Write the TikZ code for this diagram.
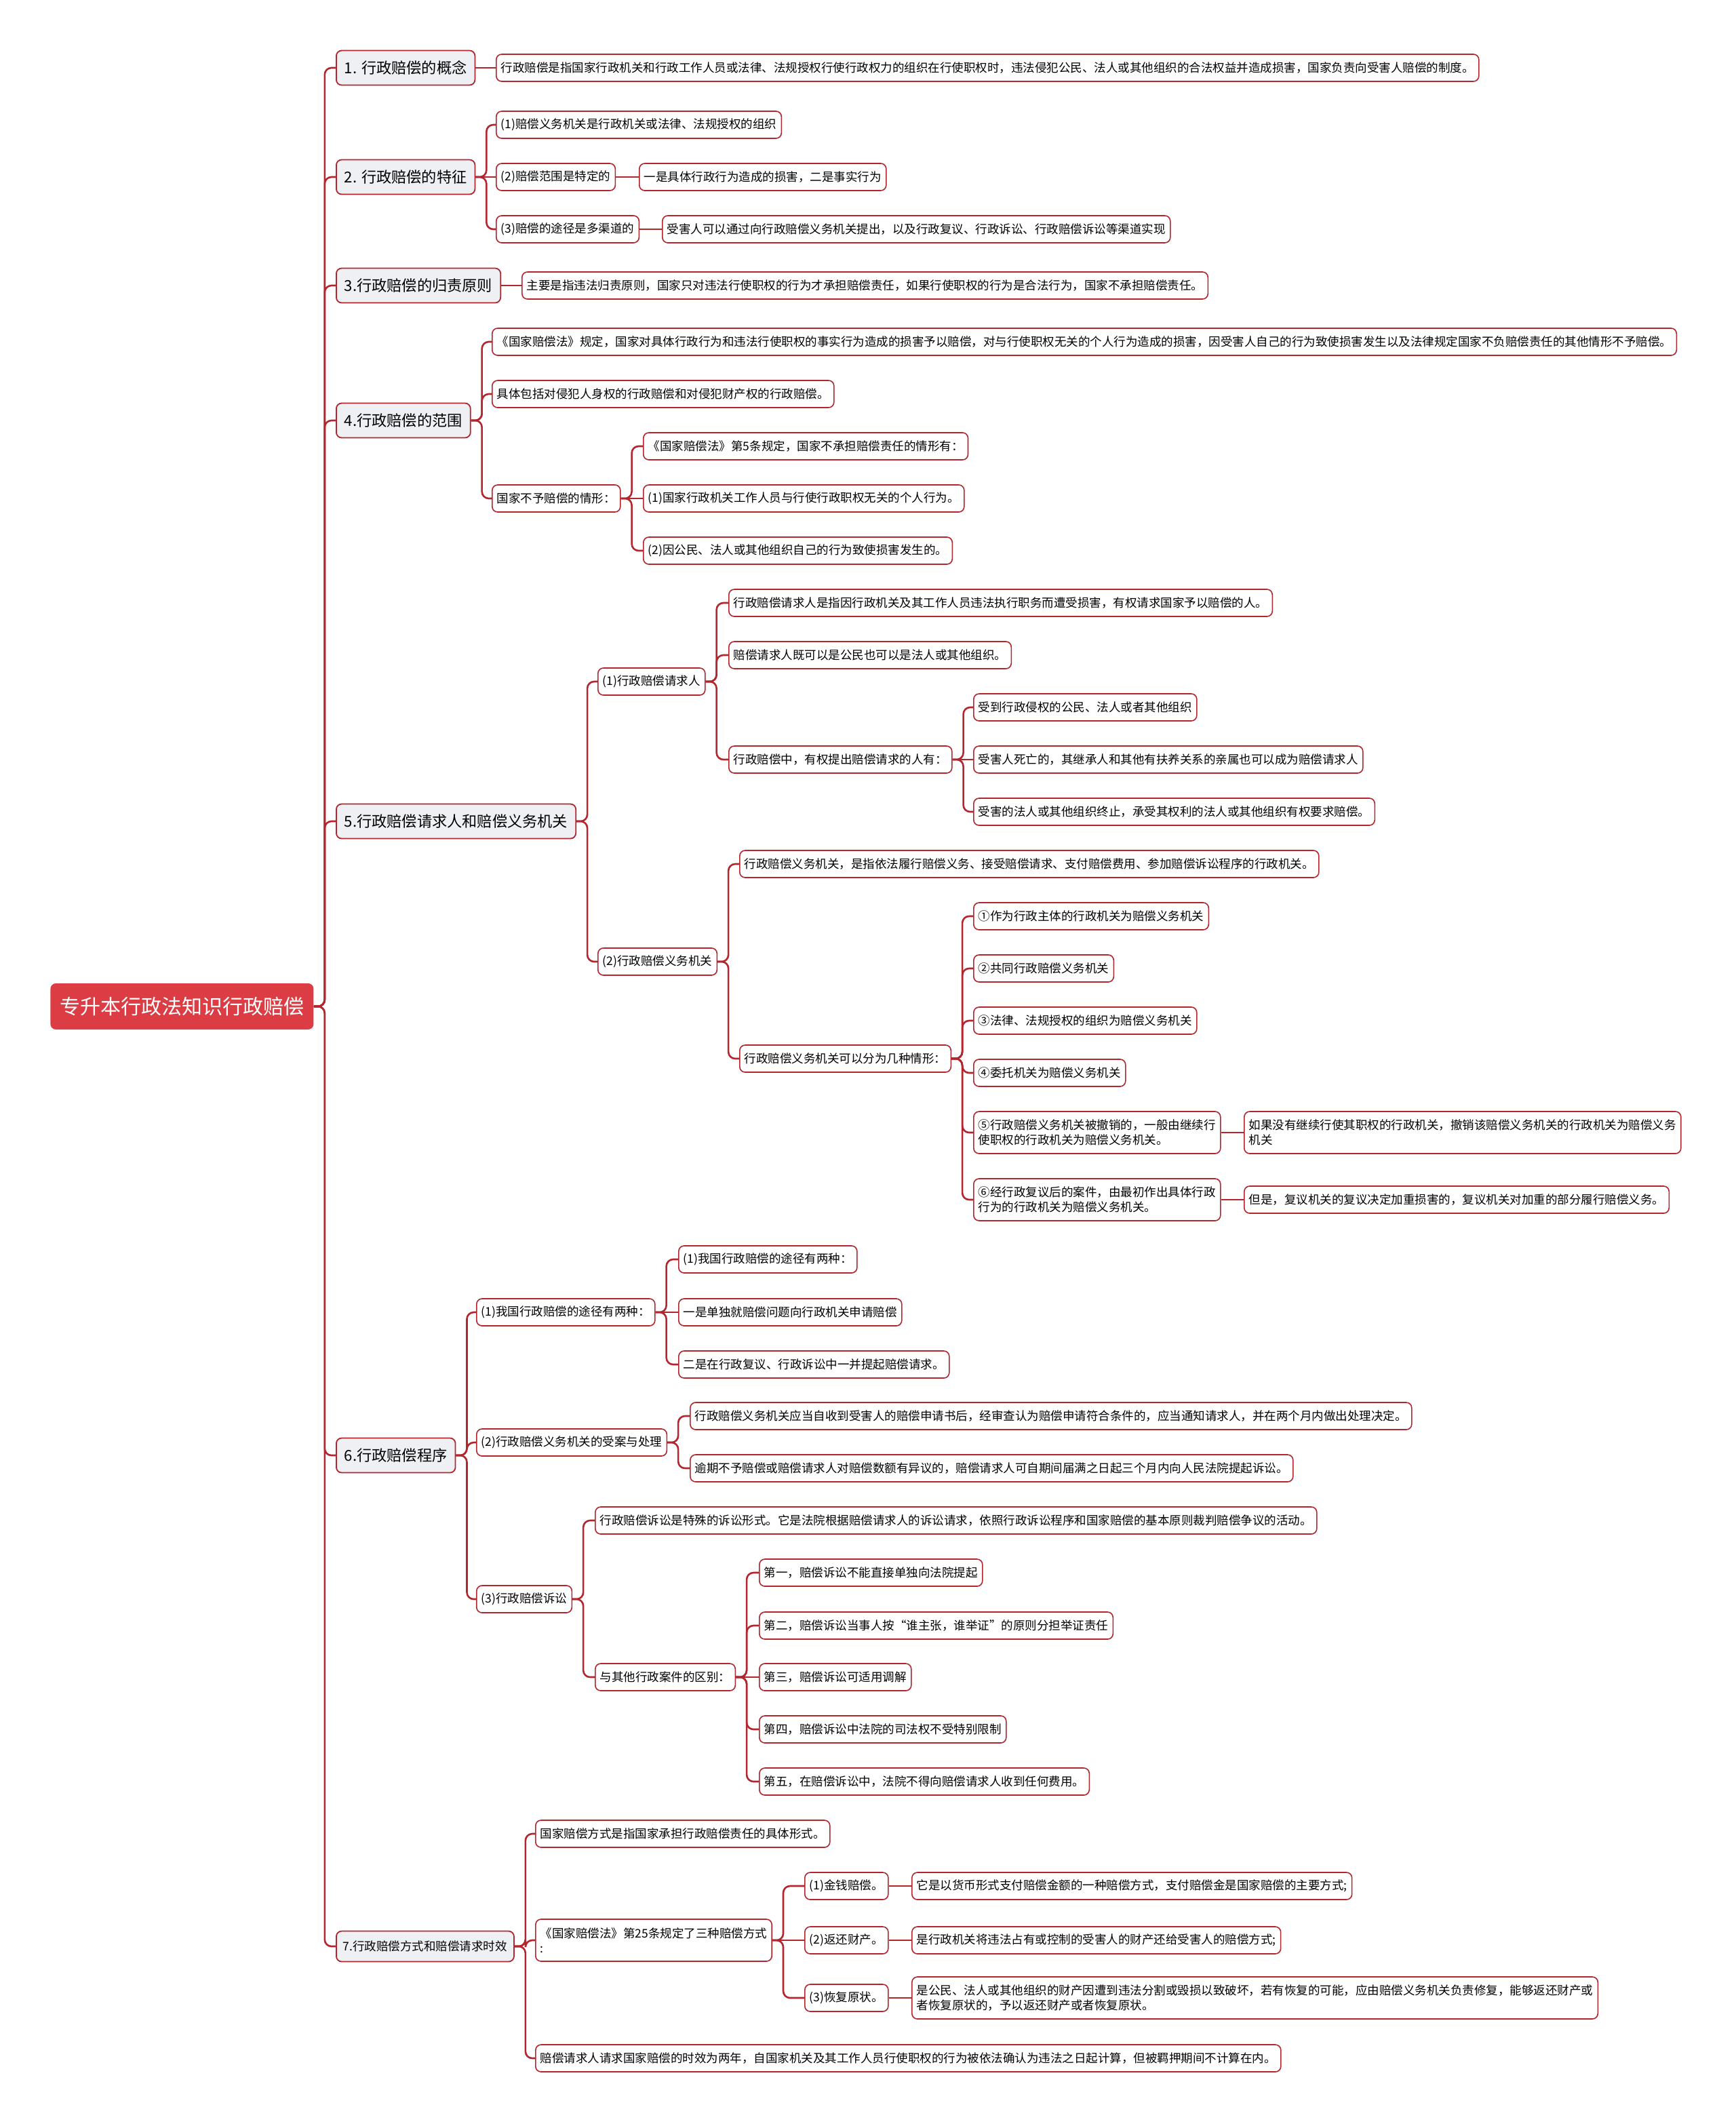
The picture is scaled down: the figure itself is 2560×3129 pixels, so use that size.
\documentclass[tikz,border=0pt]{standalone}
\usepackage{fontspec}
\setmainfont{Noto Sans CJK SC}
\definecolor{rootred}{HTML}{DC3D45}
\definecolor{linkred}{HTML}{B3262E}
\definecolor{topicgray}{HTML}{EEF0F4}
\newcommand{\twig}[2]{\draw[link] (#2.west) -| ([xshift=8pt]#1.east) [sharp corners] -- (#1.east);}
\newcommand{\stem}[2]{\draw[link] (#1.east) -- (#2.west);}

\begin{document}
\begin{tikzpicture}[x=0.5pt,y=-0.5pt,
    link/.style={draw=linkred,line width=1.3pt,rounded corners=5pt},
    root/.style={fill=rootred,text=white,rounded corners=4pt,anchor=west,font=\fontsize{15}{18}\selectfont,minimum height=34pt,inner xsep=7pt},
    topic/.style={draw=linkred,fill=topicgray,line width=0.9pt,rounded corners=4pt,anchor=west,font=\fontsize{11.1}{14}\selectfont,minimum height=25.5pt,inner xsep=6pt},
    leaf/.style={draw=linkred,fill=white,line width=0.8pt,rounded corners=4pt,anchor=west,align=left,font=\fontsize{8.75}{11}\selectfont,minimum height=20pt,inner xsep=3.5pt},
    tall/.style={minimum height=31pt}]
    \useasboundingbox (0,0) rectangle (2560,3129);
    \node[root] (root) at (74,1484) {专升本行政法知识行政赔偿}; %root
    % 1
    \node[topic] (s1) at (495,100) {1. 行政赔偿的概念};
    \node[leaf] (s1a) at (731,100) {行政赔偿是指国家行政机关和行政工作人员或法律、法规授权行使行政权力的组织在行使职权时，违法侵犯公民、法人或其他组织的合法权益并造成损害，国家负责向受害人赔偿的制度。};
    % 2
    \node[topic] (s2) at (495,261) {2. 行政赔偿的特征};
    \node[leaf] (s2a) at (731,184) {(1)赔偿义务机关是行政机关或法律、法规授权的组织};
    \node[leaf] (s2b) at (731,261) {(2)赔偿范围是特定的};
    \node[leaf] (s2bx) at (942,261) {一是具体行政行为造成的损害，二是事实行为};
    \node[leaf] (s2c) at (731,338) {(3)赔偿的途径是多渠道的};
    \node[leaf] (s2cx) at (976,338) {受害人可以通过向行政赔偿义务机关提出，以及行政复议、行政诉讼、行政赔偿诉讼等渠道实现};
    % 3
    \node[topic] (s3) at (495,421) {3.行政赔偿的归责原则};
    \node[leaf] (s3a) at (769,421) {主要是指违法归责原则，国家只对违法行使职权的行为才承担赔偿责任，如果行使职权的行为是合法行为，国家不承担赔偿责任。};
    % 4
    \node[topic] (s4) at (495,620) {4.行政赔偿的范围};
    \node[leaf] (s4a) at (725,504) {《国家赔偿法》规定，国家对具体行政行为和违法行使职权的事实行为造成的损害予以赔偿，对与行使职权无关的个人行为造成的损害，因受害人自己的行为致使损害发生以及法律规定国家不负赔偿责任的其他情形不予赔偿。};
    \node[leaf] (s4b) at (725,581) {具体包括对侵犯人身权的行政赔偿和对侵犯财产权的行政赔偿。};
    \node[leaf] (s4c) at (725,735) {国家不予赔偿的情形：};
    \node[leaf] (s4c1) at (948,658) {《国家赔偿法》第5条规定，国家不承担赔偿责任的情形有：};
    \node[leaf] (s4c2) at (948,735) {(1)国家行政机关工作人员与行使行政职权无关的个人行为。};
    \node[leaf] (s4c3) at (948,812) {(2)因公民、法人或其他组织自己的行为致使损害发生的。};
    % 5
    \node[topic] (s5) at (495,1211) {5.行政赔偿请求人和赔偿义务机关};
    \node[leaf] (s5a) at (881,1005) {(1)行政赔偿请求人};
    \node[leaf] (s5a1) at (1074,889) {行政赔偿请求人是指因行政机关及其工作人员违法执行职务而遭受损害，有权请求国家予以赔偿的人。};
    \node[leaf] (s5a2) at (1074,966) {赔偿请求人既可以是公民也可以是法人或其他组织。};
    \node[leaf] (s5a3) at (1074,1120) {行政赔偿中，有权提出赔偿请求的人有：};
    \node[leaf] (s5a3a) at (1435,1043) {受到行政侵权的公民、法人或者其他组织};
    \node[leaf] (s5a3b) at (1435,1120) {受害人死亡的，其继承人和其他有扶养关系的亲属也可以成为赔偿请求人};
    \node[leaf] (s5a3c) at (1435,1197) {受害的法人或其他组织终止，承受其权利的法人或其他组织有权要求赔偿。};
    \node[leaf] (s5b) at (881,1418) {(2)行政赔偿义务机关};
    \node[leaf] (s5b1) at (1090,1274) {行政赔偿义务机关，是指依法履行赔偿义务、接受赔偿请求、支付赔偿费用、参加赔偿诉讼程序的行政机关。};
    \node[leaf] (s5b2) at (1090,1561) {行政赔偿义务机关可以分为几种情形：};
    \node[leaf] (s5b2a) at (1435,1351) {①作为行政主体的行政机关为赔偿义务机关};
    \node[leaf] (s5b2b) at (1435,1428) {②共同行政赔偿义务机关};
    \node[leaf] (s5b2c) at (1435,1505) {③法律、法规授权的组织为赔偿义务机关};
    \node[leaf] (s5b2d) at (1435,1582) {④委托机关为赔偿义务机关};
    \node[leaf,tall] (s5b2e) at (1435,1670) {⑤行政赔偿义务机关被撤销的，一般由继续行\\使职权的行政机关为赔偿义务机关。};
    \node[leaf,tall] (s5b2ex) at (1834,1670) {如果没有继续行使其职权的行政机关，撤销该赔偿义务机关的行政机关为赔偿义务\\机关};
    \node[leaf,tall] (s5b2f) at (1435,1769) {⑥经行政复议后的案件，由最初作出具体行政\\行为的行政机关为赔偿义务机关。};
    \node[leaf] (s5b2fx) at (1834,1769) {但是，复议机关的复议决定加重损害的，复议机关对加重的部分履行赔偿义务。};
    % 6
    \node[topic] (s6) at (495,2146) {6.行政赔偿程序};
    \node[leaf] (s6a) at (702,1935) {(1)我国行政赔偿的途径有两种：};
    \node[leaf] (s6a1) at (1000,1857) {(1)我国行政赔偿的途径有两种：};
    \node[leaf] (s6a2) at (1000,1935) {一是单独就赔偿问题向行政机关申请赔偿};
    \node[leaf] (s6a3) at (1000,2012) {二是在行政复议、行政诉讼中一并提起赔偿请求。};
    \node[leaf] (s6b) at (702,2127) {(2)行政赔偿义务机关的受案与处理};
    \node[leaf] (s6b1) at (1017,2088) {行政赔偿义务机关应当自收到受害人的赔偿申请书后，经审查认为赔偿申请符合条件的，应当通知请求人，并在两个月内做出处理决定。};
    \node[leaf] (s6b2) at (1017,2165) {逾期不予赔偿或赔偿请求人对赔偿数额有异议的，赔偿请求人可自期间届满之日起三个月内向人民法院提起诉讼。};
    \node[leaf] (s6c) at (702,2358) {(3)行政赔偿诉讼};
    \node[leaf] (s6c1) at (877,2242) {行政赔偿诉讼是特殊的诉讼形式。它是法院根据赔偿请求人的诉讼请求，依照行政诉讼程序和国家赔偿的基本原则裁判赔偿争议的活动。};
    \node[leaf] (s6c2) at (877,2473) {与其他行政案件的区别：};
    \node[leaf] (s6c2a) at (1119,2319) {第一，赔偿诉讼不能直接单独向法院提起};
    \node[leaf] (s6c2b) at (1119,2397) {第二，赔偿诉讼当事人按“谁主张，谁举证”的原则分担举证责任};
    \node[leaf] (s6c2c) at (1119,2473) {第三，赔偿诉讼可适用调解};
    \node[leaf] (s6c2d) at (1119,2550) {第四，赔偿诉讼中法院的司法权不受特别限制};
    \node[leaf] (s6c2e) at (1119,2627) {第五，在赔偿诉讼中，法院不得向赔偿请求人收到任何费用。};
    % 7
    \node[topic,font=\fontsize{8.75}{11}\selectfont,minimum height=22.5pt,inner xsep=5pt] (s7) at (495,2870) {7.行政赔偿方式和赔偿请求时效};
    \node[leaf] (s7a) at (789,2704) {国家赔偿方式是指国家承担行政赔偿责任的具体形式。};
    \node[leaf,tall] (s7b) at (789,2861) {《国家赔偿法》第25条规定了三种赔偿方式\\:};
    \node[leaf] (s7b1) at (1186,2781) {(1)金钱赔偿。};
    \node[leaf] (s7b1x) at (1344,2781) {它是以货币形式支付赔偿金额的一种赔偿方式，支付赔偿金是国家赔偿的主要方式;};
    \node[leaf] (s7b2) at (1186,2861) {(2)返还财产。};
    \node[leaf] (s7b2x) at (1344,2861) {是行政机关将违法占有或控制的受害人的财产还给受害人的赔偿方式;};
    \node[leaf] (s7b3) at (1186,2946) {(3)恢复原状。};
    \node[leaf,tall] (s7b3x) at (1344,2946) {是公民、法人或其他组织的财产因遭到违法分割或毁损以致破坏，若有恢复的可能，应由赔偿义务机关负责修复，能够返还财产或\\者恢复原状的，予以返还财产或者恢复原状。};
    \node[leaf] (s7c) at (789,3035) {赔偿请求人请求国家赔偿的时效为两年，自国家机关及其工作人员行使职权的行为被依法确认为违法之日起计算，但被羁押期间不计算在内。};
    % links
    \foreach \s in {s1,s2,s3,s4,s5,s6,s7} {\twig{root}{\s}}
    \stem{s1}{s1a}
    \twig{s2}{s2a}
    \stem{s2}{s2b}
    \twig{s2}{s2c}
    \stem{s2b}{s2bx}
    \stem{s2c}{s2cx}
    \stem{s3}{s3a}
    \foreach \s in {s4a,s4b,s4c} {\twig{s4}{\s}}
    \twig{s4c}{s4c1}
    \stem{s4c}{s4c2}
    \twig{s4c}{s4c3}
    \twig{s5}{s5a}
    \twig{s5}{s5b}
    \foreach \s in {s5a1,s5a2} {\twig{s5a}{\s}}
    \twig{s5a}{s5a3}
    \twig{s5a3}{s5a3a}
    \stem{s5a3}{s5a3b}
    \twig{s5a3}{s5a3c}
    \twig{s5b}{s5b1}
    \twig{s5b}{s5b2}
    \foreach \s in {s5b2a,s5b2b,s5b2c,s5b2d,s5b2e,s5b2f} {\twig{s5b2}{\s}}
    \stem{s5b2e}{s5b2ex}
    \stem{s5b2f}{s5b2fx}
    \foreach \s in {s6a,s6b,s6c} {\twig{s6}{\s}}
    \twig{s6a}{s6a1}
    \stem{s6a}{s6a2}
    \twig{s6a}{s6a3}
    \twig{s6b}{s6b1}
    \twig{s6b}{s6b2}
    \twig{s6c}{s6c1}
    \twig{s6c}{s6c2}
    \foreach \s in {s6c2a,s6c2b,s6c2d,s6c2e} {\twig{s6c2}{\s}}
    \stem{s6c2}{s6c2c}
    \foreach \s in {s7a,s7c} {\twig{s7}{\s}}
    \twig{s7}{s7b}
    \twig{s7b}{s7b1}
    \stem{s7b}{s7b2}
    \twig{s7b}{s7b3}
    \stem{s7b1}{s7b1x}
    \stem{s7b2}{s7b2x}
    \stem{s7b3}{s7b3x}
\end{tikzpicture}
\end{document}
